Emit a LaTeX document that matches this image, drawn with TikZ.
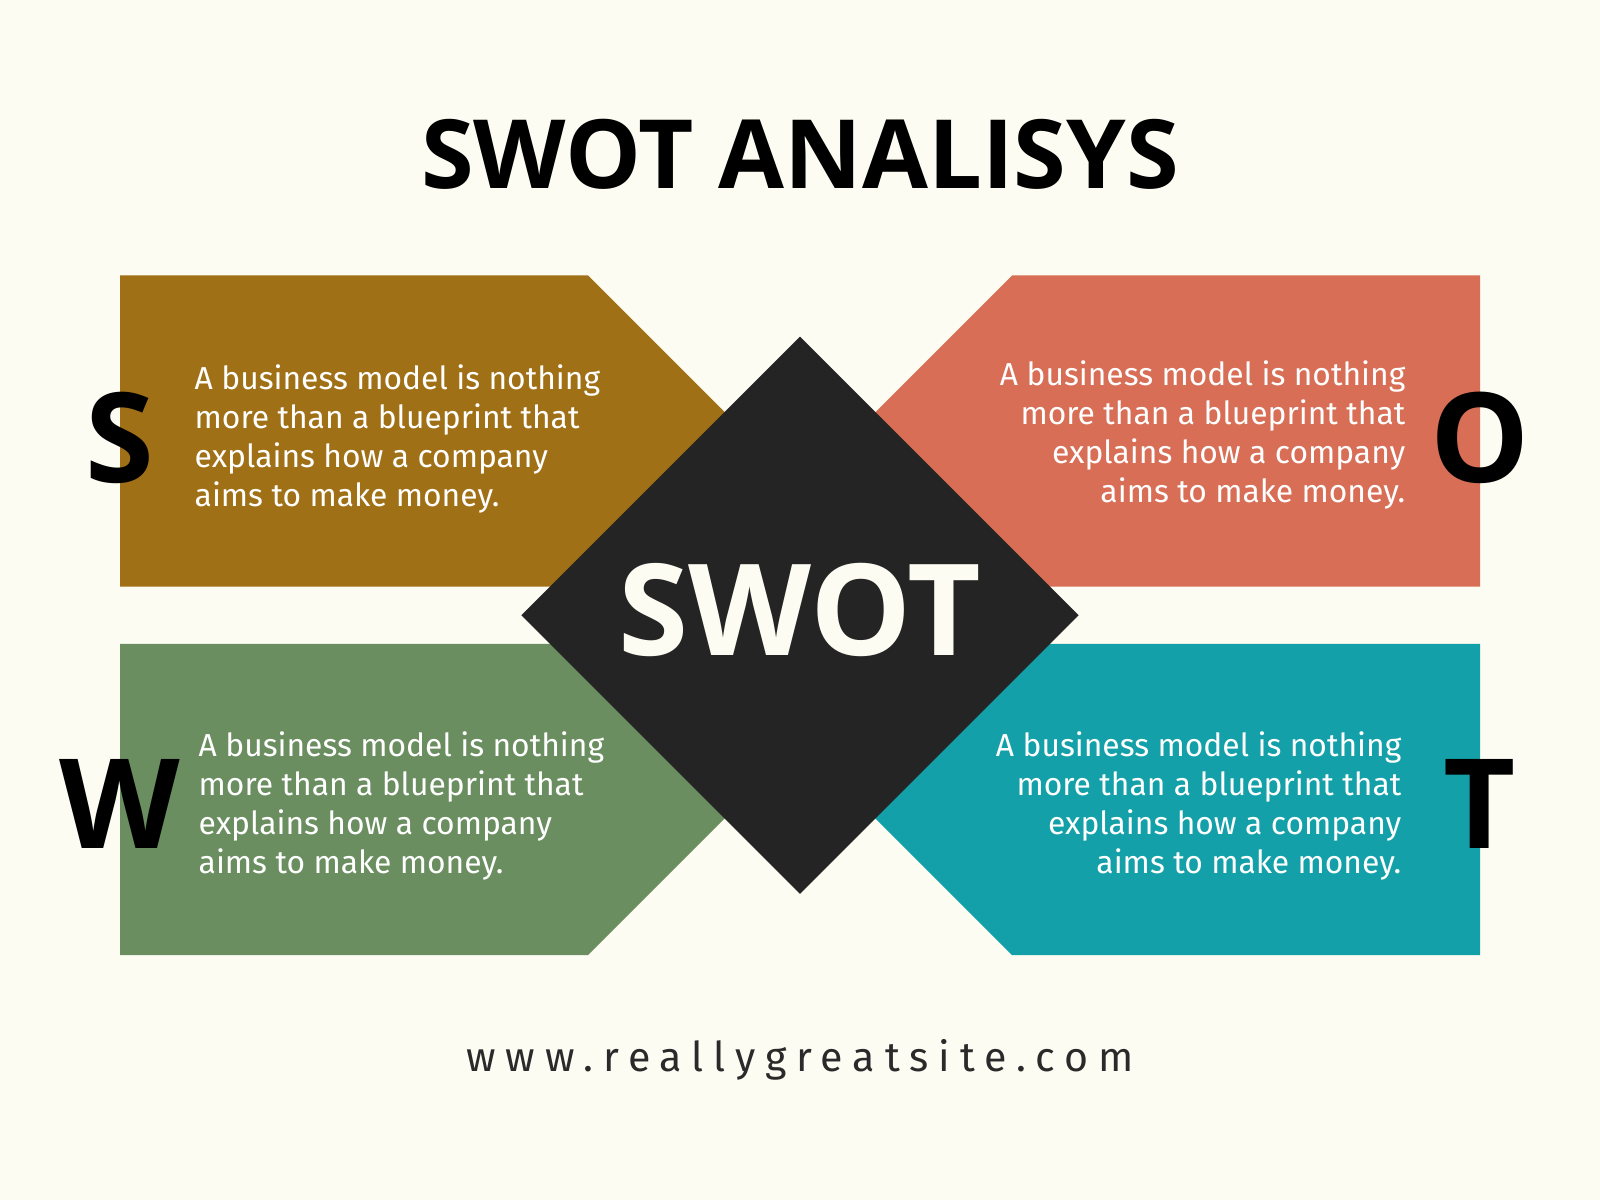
\documentclass[tikz,border=0pt]{standalone}
\usepackage{fontspec}
\setmainfont{Fira Sans}
\newfontfamily\headfont{Open Sans}
\usetikzlibrary{positioning}
\definecolor{cream}{HTML}{FDFCF3}
\definecolor{sbrown}{HTML}{A07017}
\definecolor{ored}{HTML}{D76E55}
\definecolor{wgreen}{HTML}{6A8E5F}
\definecolor{tteal}{HTML}{14A0A8}
\definecolor{dark}{HTML}{242424}
\definecolor{urlgray}{HTML}{2A2A2A}

\begin{document}
\begin{tikzpicture}
		\tikzstyle{body} = [text=white, inner sep=0pt, font=\fontsize{9.05}{11.05}\selectfont]
		\tikzstyle{letter} = [inner sep=0pt, font=\headfont\bfseries\fontsize{35.5}{36}\selectfont]

		\fill[cream] (0,0) rectangle (16,12);
		\useasboundingbox (0,0) rectangle (16,12);

		% the four arrow blocks
		\fill[sbrown] (1.2,9.245) -- (5.88,9.245) -- (7.436,7.689) -- (5.88,6.133) -- (1.2,6.133) -- cycle;
		\fill[ored] (14.8,9.245) -- (10.12,9.245) -- (8.564,7.689) -- (10.12,6.133) -- (14.8,6.133) -- cycle;
		\fill[wgreen] (1.2,5.561) -- (5.88,5.561) -- (7.436,4.005) -- (5.88,2.449) -- (1.2,2.449) -- cycle;
		\fill[tteal] (14.8,5.561) -- (10.12,5.561) -- (8.564,4.005) -- (10.12,2.449) -- (14.8,2.449) -- cycle;

		% centre diamond
		\fill[dark] (8,8.633) -- (10.786,5.847) -- (8,3.061) -- (5.214,5.847) -- cycle;

		\path
		node[font=\headfont\bfseries\fontsize{27.2}{30}\selectfont, inner sep=0pt] (title) at (8,10.46) {SWOT ANALISYS}
		node[letter, text=cream, font=\headfont\bfseries\fontsize{36.2}{37}\selectfont] (swot) at (8,5.9) {SWOT}

		node[letter] (s) at (1.2,7.62) {S}
		node[letter] (o) at (14.8,7.62) {O}
		node[letter] (w) at (1.2,3.96) {W}
		node[letter] (t) at (14.8,3.96) {T}

		node[body, anchor=north west, align=left] (stext) at (1.94,8.36)
			{A business model is nothing\\more than a blueprint that\\explains how a company\\aims to make money.}
		node[body, anchor=north east, align=right] (otext) at (14.06,8.40)
			{A business model is nothing\\more than a blueprint that\\explains how a company\\aims to make money.}
		node[body, anchor=north west, align=left] (wtext) at (1.98,4.69)
			{A business model is nothing\\more than a blueprint that\\explains how a company\\aims to make money.}
		node[body, anchor=north east, align=right] (ttext) at (14.02,4.69)
			{A business model is nothing\\more than a blueprint that\\explains how a company\\aims to make money.}

		node[anchor=base, inner sep=0pt, text=urlgray, font=\fontsize{11.7}{12}\selectfont\addfontfeature{LetterSpace=24}] (url) at (8,1.29) {www.reallygreatsite.com}
		;
\end{tikzpicture}
\end{document}
